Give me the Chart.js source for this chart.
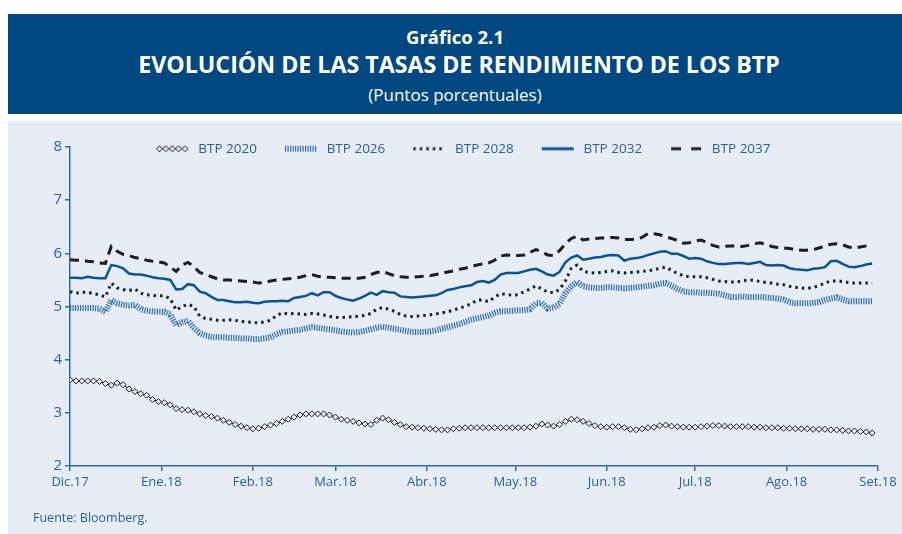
<!DOCTYPE html>
<html>
<head>
<meta charset="utf-8">
<script src="https://cdn.jsdelivr.net/npm/chart.js@4.4.1/dist/chart.umd.min.js"></script>
<style>
  html, body { margin: 0; padding: 0; background: #fff; }
  body { width: 902px; height: 534px; position: relative; overflow: hidden; font-family: "Open Sans", sans-serif; }
  #header { position: absolute; left: 8px; top: 14px; width: 894px; height: 100px; background: #00487f; color: #fff; text-align: center; }
  #header div { position: absolute; left: 0; right: 0; line-height: 26px; }
  #header .t1 { top: 10px; font-size: 18.5px; font-weight: bold; }
  #header .t2 { top: 37px; left: 8px; font-size: 23.2px; font-weight: bold; }
  #header .t3 { top: 68px; font-size: 17px; }
  #panel { position: absolute; left: 8px; top: 121px; width: 894px; height: 413px; background: #e6edf5; }
  #chart { position: absolute; left: 0; top: 0; }
  #source { position: absolute; left: 25px; top: 388px; font-size: 12.5px; line-height: 18px; color: #2b5f9a; }
</style>
</head>
<body>
<div id="header">
  <div class="t1">Gráfico 2.1</div>
  <div class="t2">EVOLUCIÓN DE LAS TASAS DE RENDIMIENTO DE LOS BTP</div>
  <div class="t3">(Puntos porcentuales)</div>
</div>
<div id="panel">
  <canvas id="chart" width="894" height="413"></canvas>
  <div id="source">Fuente: Bloomberg.</div>
</div>
<script>
// one point every second day, counted from 1 Dec 2017
const days = Array.from({ length: 137 }, (_, i) => i * 2);
const monthDays = [0, 31, 62, 90, 121, 151, 182, 212, 243, 274];
const monthLabels = ['Dic.17', 'Ene.18', 'Feb.18', 'Mar.18', 'Abr.18', 'May.18', 'Jun.18', 'Jul.18', 'Ago.18', 'Set.18'];
const yTicks = [2, 3, 4, 5, 6, 7, 8];

const btp2020 = [
  3.62, 3.60, 3.60, 3.60, 3.60, 3.59, 3.55, 3.52, 3.56, 3.53,
  3.45, 3.40, 3.36, 3.33, 3.25, 3.21, 3.19, 3.15, 3.08, 3.06,
  3.05, 3.02, 2.98, 2.95, 2.93, 2.90, 2.86, 2.82, 2.78, 2.75,
  2.72, 2.70, 2.71, 2.74, 2.77, 2.80, 2.84, 2.88, 2.92, 2.96,
  2.98, 2.98, 2.98, 2.98, 2.96, 2.92, 2.88, 2.86, 2.84, 2.81,
  2.79, 2.78, 2.86, 2.90, 2.87, 2.82, 2.78, 2.74, 2.73, 2.72,
  2.71, 2.70, 2.69, 2.68, 2.68, 2.70, 2.71, 2.72, 2.72, 2.72,
  2.72, 2.72, 2.72, 2.72, 2.72, 2.72, 2.72, 2.72, 2.73, 2.75,
  2.79, 2.77, 2.75, 2.78, 2.84, 2.88, 2.87, 2.84, 2.80, 2.76,
  2.74, 2.73, 2.74, 2.74, 2.72, 2.69, 2.68, 2.70, 2.72, 2.73,
  2.76, 2.77, 2.75, 2.74, 2.73, 2.73, 2.73, 2.74, 2.75, 2.76,
  2.76, 2.75, 2.74, 2.74, 2.74, 2.74, 2.73, 2.73, 2.72, 2.72,
  2.72, 2.71, 2.71, 2.70, 2.70, 2.70, 2.69, 2.69, 2.69, 2.68,
  2.68, 2.67, 2.66, 2.66, 2.65, 2.64, 2.62
];
const btp2026 = [
  4.97, 4.97, 4.97, 4.97, 4.97, 4.96, 4.90, 5.12, 5.06, 5.03,
  5.02, 5.03, 4.95, 4.92, 4.91, 4.90, 4.90, 4.85, 4.65, 4.70,
  4.73, 4.60, 4.50, 4.45, 4.43, 4.42, 4.42, 4.41, 4.41, 4.40,
  4.40, 4.39, 4.39, 4.40, 4.42, 4.48, 4.52, 4.53, 4.55, 4.56,
  4.59, 4.61, 4.60, 4.58, 4.57, 4.55, 4.53, 4.52, 4.51, 4.52,
  4.54, 4.57, 4.60, 4.62, 4.60, 4.58, 4.56, 4.54, 4.52, 4.52,
  4.52, 4.53, 4.55, 4.58, 4.61, 4.64, 4.67, 4.71, 4.75, 4.78,
  4.80, 4.83, 4.88, 4.91, 4.91, 4.92, 4.93, 4.93, 4.95, 5.06,
  5.07, 4.96, 4.98, 5.05, 5.25, 5.38, 5.46, 5.38, 5.36, 5.35,
  5.35, 5.36, 5.36, 5.35, 5.34, 5.35, 5.36, 5.37, 5.39, 5.40,
  5.43, 5.44, 5.39, 5.33, 5.28, 5.27, 5.27, 5.26, 5.26, 5.25,
  5.24, 5.21, 5.18, 5.18, 5.19, 5.18, 5.18, 5.18, 5.17, 5.16,
  5.15, 5.13, 5.08, 5.06, 5.06, 5.06, 5.07, 5.08, 5.12, 5.15,
  5.17, 5.13, 5.10, 5.10, 5.10, 5.10, 5.10
];
const btp2028 = [
  5.28, 5.25, 5.27, 5.27, 5.24, 5.22, 5.18, 5.44, 5.35, 5.32,
  5.30, 5.33, 5.25, 5.22, 5.21, 5.20, 5.20, 5.15, 4.93, 5.00,
  5.04, 5.00, 4.82, 4.77, 4.76, 4.74, 4.74, 4.75, 4.74, 4.72,
  4.71, 4.70, 4.69, 4.71, 4.74, 4.83, 4.88, 4.86, 4.87, 4.86,
  4.85, 4.87, 4.86, 4.84, 4.81, 4.80, 4.79, 4.80, 4.81, 4.82,
  4.83, 4.87, 4.95, 4.98, 4.95, 4.91, 4.85, 4.82, 4.81, 4.82,
  4.83, 4.84, 4.86, 4.88, 4.90, 4.93, 4.97, 5.00, 5.05, 5.12,
  5.12, 5.09, 5.18, 5.24, 5.23, 5.21, 5.22, 5.28, 5.33, 5.39,
  5.33, 5.27, 5.26, 5.32, 5.48, 5.72, 5.78, 5.66, 5.64, 5.63,
  5.64, 5.66, 5.67, 5.64, 5.63, 5.64, 5.65, 5.66, 5.67, 5.69,
  5.72, 5.74, 5.68, 5.62, 5.58, 5.56, 5.56, 5.56, 5.54, 5.51,
  5.48, 5.47, 5.46, 5.46, 5.48, 5.50, 5.49, 5.47, 5.45, 5.44,
  5.42, 5.41, 5.38, 5.36, 5.35, 5.34, 5.36, 5.39, 5.44, 5.48,
  5.48, 5.47, 5.45, 5.44, 5.44, 5.44, 5.44
];
const btp2032 = [
  5.54, 5.54, 5.53, 5.56, 5.54, 5.53, 5.53, 5.78, 5.76, 5.72,
  5.62, 5.60, 5.60, 5.58, 5.55, 5.53, 5.52, 5.50, 5.32, 5.33,
  5.42, 5.40, 5.28, 5.25, 5.18, 5.12, 5.12, 5.10, 5.08, 5.08,
  5.09, 5.07, 5.06, 5.09, 5.10, 5.10, 5.11, 5.10, 5.16, 5.18,
  5.20, 5.25, 5.21, 5.27, 5.27, 5.20, 5.16, 5.13, 5.11, 5.15,
  5.20, 5.26, 5.22, 5.29, 5.27, 5.26, 5.19, 5.18, 5.17, 5.18,
  5.19, 5.20, 5.21, 5.25, 5.31, 5.33, 5.36, 5.38, 5.40, 5.46,
  5.48, 5.45, 5.50, 5.60, 5.63, 5.63, 5.63, 5.66, 5.69, 5.71,
  5.66, 5.60, 5.58, 5.65, 5.83, 5.92, 5.96, 5.88, 5.90, 5.92,
  5.93, 5.96, 5.97, 5.96, 5.86, 5.90, 5.91, 5.93, 5.97, 6.00,
  6.03, 6.04, 5.99, 5.99, 5.95, 5.90, 5.91, 5.90, 5.85, 5.82,
  5.80, 5.80, 5.81, 5.82, 5.82, 5.80, 5.82, 5.84, 5.78, 5.77,
  5.78, 5.77, 5.72, 5.70, 5.69, 5.68, 5.71, 5.72, 5.74, 5.85,
  5.86, 5.80, 5.75, 5.74, 5.76, 5.79, 5.81
];
const btp2037 = [
  5.88, 5.87, 5.87, 5.85, 5.84, 5.82, 5.81, 6.13, 6.04, 5.98,
  5.96, 5.92, 5.90, 5.87, 5.85, 5.84, 5.82, 5.74, 5.66, 5.78,
  5.83, 5.75, 5.64, 5.60, 5.56, 5.52, 5.50, 5.50, 5.49, 5.48,
  5.47, 5.46, 5.44, 5.45, 5.48, 5.50, 5.51, 5.52, 5.53, 5.55,
  5.58, 5.60, 5.57, 5.55, 5.55, 5.54, 5.53, 5.53, 5.53, 5.53,
  5.55, 5.60, 5.64, 5.66, 5.62, 5.58, 5.56, 5.55, 5.55, 5.56,
  5.57, 5.58, 5.60, 5.62, 5.65, 5.67, 5.70, 5.72, 5.75, 5.78,
  5.80, 5.82, 5.87, 5.95, 5.97, 5.96, 5.96, 5.97, 6.02, 6.07,
  6.03, 5.97, 5.96, 6.05, 6.18, 6.28, 6.32, 6.25, 6.27, 6.28,
  6.29, 6.29, 6.30, 6.29, 6.26, 6.26, 6.27, 6.30, 6.37, 6.37,
  6.35, 6.31, 6.28, 6.24, 6.19, 6.20, 6.23, 6.25, 6.20, 6.15,
  6.12, 6.13, 6.14, 6.14, 6.13, 6.15, 6.18, 6.20, 6.17, 6.13,
  6.11, 6.10, 6.09, 6.07, 6.06, 6.06, 6.07, 6.10, 6.14, 6.17,
  6.18, 6.16, 6.12, 6.10, 6.12, 6.14, 6.15
];

const panelBg = '#e6edf5';
const textBlue = '#2b5f9a';
const axisBlue = '#2f6aa6';
const dark = '#1e1e1e';
const lineBlue = '#0b5394';
const hatchBlue = '#2e6db0';

// small canvases used as legend samples (blank strip on the left = item spacing)
function legendIcon(draw) {
  const c = document.createElement('canvas');
  c.width = 51;
  c.height = 12;
  const g = c.getContext('2d');
  draw(g);
  return c;
}
const legendIcons = [
  legendIcon(g => {
    g.strokeStyle = dark; g.lineWidth = 1; g.fillStyle = panelBg;
    for (let k = 0; k < 5; k++) {
      const cx = 19 + k * 6.4;
      g.beginPath();
      g.moveTo(cx, 3); g.lineTo(cx + 3, 6); g.lineTo(cx, 9); g.lineTo(cx - 3, 6); g.closePath();
      g.fill(); g.stroke();
    }
  }),
  legendIcon(g => {
    g.strokeStyle = hatchBlue; g.lineWidth = 6; g.setLineDash([1.2, 1.3]);
    g.beginPath(); g.moveTo(16, 6); g.lineTo(48, 6); g.stroke();
  }),
  legendIcon(g => {
    g.strokeStyle = dark; g.lineWidth = 3; g.setLineDash([2.5, 4]);
    g.beginPath(); g.moveTo(16, 6); g.lineTo(48, 6); g.stroke();
  }),
  legendIcon(g => {
    g.strokeStyle = lineBlue; g.lineWidth = 3;
    g.beginPath(); g.moveTo(16, 6); g.lineTo(48, 6); g.stroke();
  }),
  legendIcon(g => {
    g.strokeStyle = dark; g.lineWidth = 3; g.setLineDash([10, 10]);
    g.beginPath(); g.moveTo(17, 6); g.lineTo(48, 6); g.stroke();
  })
];

// the legend sits on the same line as the top tick: keep it short for the layout,
// then give it back its full box so it is not clipped when drawn
const legendOverlap = {
  id: 'legendOverlap',
  afterLayout(chart) {
    const lg = chart.legend;
    if (lg) {
      lg.height = 40;
      lg.bottom = lg.top + 40;
    }
  }
};

const font = { family: '"Open Sans", sans-serif', size: 13 };

new Chart(document.getElementById('chart'), {
  type: 'line',
  data: {
    labels: days,
    datasets: [
      {
        label: 'BTP 2020',
        data: btp2020,
        borderColor: dark,
        borderWidth: 1,
        pointStyle: 'rectRot',
        pointRadius: 3,
        pointBorderWidth: 1,
        pointBorderColor: dark,
        pointBackgroundColor: panelBg
      },
      {
        label: 'BTP 2026',
        data: btp2026,
        borderColor: hatchBlue,
        borderWidth: 6,
        borderDash: [1.2, 1.3],
        pointRadius: 0
      },
      {
        label: 'BTP 2028',
        data: btp2028,
        borderColor: dark,
        borderWidth: 3,
        borderDash: [2.5, 4],
        pointRadius: 0
      },
      {
        label: 'BTP 2032',
        data: btp2032,
        borderColor: lineBlue,
        borderWidth: 2.5,
        pointRadius: 0
      },
      {
        label: 'BTP 2037',
        data: btp2037,
        borderColor: dark,
        borderWidth: 3,
        borderDash: [9, 6],
        pointRadius: 0
      }
    ]
  },
  plugins: [legendOverlap],
  options: {
    responsive: false,
    animation: false,
    layout: { padding: { top: 9, left: 25, right: 24, bottom: 28 } },
    elements: { line: { tension: 0 } },
    plugins: {
      legend: {
        position: 'top',
        maxHeight: 17,
        labels: {
          usePointStyle: true,
          pointStyleWidth: 51,
          padding: 12,
          color: textBlue,
          font: { family: font.family, size: 13.5 },
          generateLabels: function (chart) {
            const items = Chart.defaults.plugins.legend.labels.generateLabels(chart);
            items.forEach((item, i) => { item.pointStyle = legendIcons[i]; });
            return items;
          }
        }
      },
      tooltip: { enabled: false }
    },
    scales: {
      x: {
        type: 'linear',
        min: 0,
        max: 274,
        afterBuildTicks: scale => { scale.ticks = monthDays.map(v => ({ value: v })); },
        afterFit: scale => { scale.height = 40; },
        grid: { drawOnChartArea: false, drawTicks: true, tickLength: 5, color: axisBlue, lineWidth: 1.5 },
        border: { color: axisBlue, width: 1.5 },
        ticks: {
          padding: 3,
          color: textBlue,
          font: font,
          autoSkip: false,
          maxRotation: 0,
          callback: (value, index) => monthLabels[index]
        }
      },
      y: {
        min: 2,
        max: 8,
        afterBuildTicks: scale => { scale.ticks = yTicks.map(v => ({ value: v })); },
        afterFit: scale => { scale.width = 37; },
        grid: { drawOnChartArea: false, drawTicks: true, tickLength: 5, color: axisBlue, lineWidth: 1.5 },
        border: { color: axisBlue, width: 1.5 },
        ticks: { padding: 3, color: textBlue, font: { family: font.family, size: 15 } }
      }
    }
  }
});
</script>
</body>
</html>
